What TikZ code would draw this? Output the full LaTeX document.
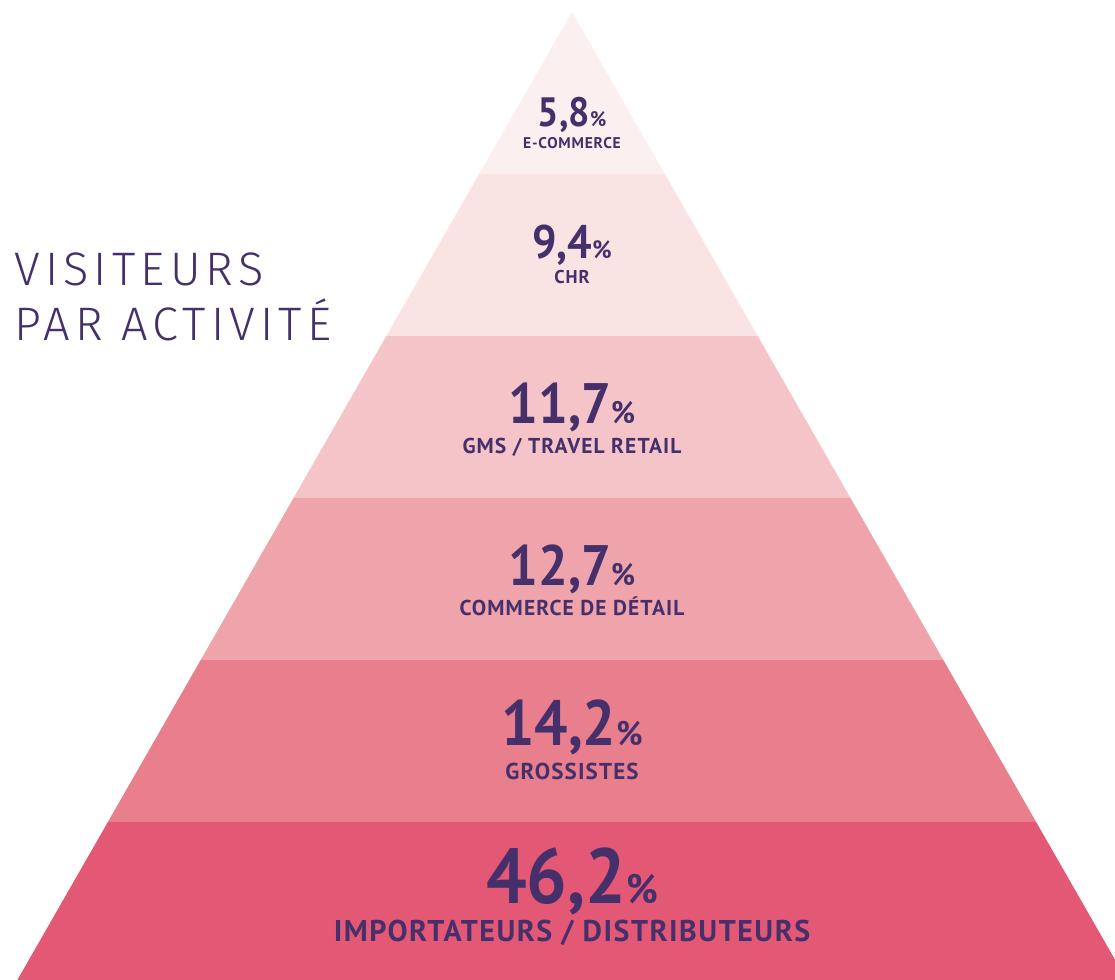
\documentclass[tikz,border=0pt]{standalone}
\usepackage{fontspec}
\setmainfont{PT Sans}
\newfontfamily\dinnum[FakeStretch=0.92]{PT Sans Bold}
\newfontfamily\dinlab[LetterSpace=5]{PT Sans Bold}
\newfontfamily\titlef[LetterSpace=11]{Fira Sans Light}
\definecolor{ink}{HTML}{46306B}
\definecolor{bandA}{HTML}{FCEFEF}
\definecolor{bandB}{HTML}{F9E3E3}
\definecolor{bandC}{HTML}{F4C4C8}
\definecolor{bandD}{HTML}{EFA3AA}
\definecolor{bandE}{HTML}{E97E8D}
\definecolor{bandF}{HTML}{E35875}
\newcommand\pcnum[3]{{\fontsize{#1}{#1}\selectfont #2}{\fontsize{#3}{#3}\selectfont\%}}
\newcommand\lab[2]{{\fontsize{#1}{#1}\selectfont #2}}
\tikzset{
  numtext/.style={text=ink, inner sep=0pt, anchor=base, font=\dinnum},
  labtext/.style={text=ink, inner sep=0pt, anchor=base, font=\dinlab},
  titletext/.style={text=ink, inner sep=0pt, anchor=base west, font=\titlef}
}
\begin{document}
\begin{tikzpicture}[x=1pt,y=-1pt]
\useasboundingbox (0,0) rectangle (1115,979);
\fill[white] (0,0) rectangle (1115,979);
\begin{scope}
\clip (0,0) rectangle (1115,979);
\clip (572,12) -- (11.6,990) -- (1132.4,990) -- cycle;
\fill[bandA] (0,0) rectangle (1115,174);
\fill[bandB] (0,174) rectangle (1115,336);
\fill[bandC] (0,336) rectangle (1115,498);
\fill[bandD] (0,498) rectangle (1115,660);
\fill[bandE] (0,660) rectangle (1115,822);
\fill[bandF] (0,822) rectangle (1115,990);
\end{scope}

\node[titletext] (t1) at (14,285) {\fontsize{47}{47}\selectfont VISITEURS};
\node[titletext] (t2) at (14,340) {\fontsize{47}{47}\selectfont PAR ACTIVITÉ};

\node[numtext] (n1) at (572,127) {\pcnum{41}{5,8}{21}};
\node[labtext] (l1) at (572,148) {\lab{15.5}{E-COMMERCE}};

\node[numtext] (n2) at (572,258) {\pcnum{47}{9,4}{25}};
\node[labtext] (l2) at (572,283) {\lab{18.5}{CHR}};

\node[numtext] (n3) at (572,423) {\pcnum{57}{11,7}{31}};
\node[labtext] (l3) at (572,453) {\lab{21.5}{GMS / TRAVEL RETAIL}};

\node[numtext] (n4) at (572,585) {\pcnum{57}{12,7}{31}};
\node[labtext] (l4) at (572,615) {\lab{21.5}{COMMERCE DE DÉTAIL}};

\node[numtext] (n5) at (572,745) {\pcnum{64}{14,2}{34}};
\node[labtext] (l5) at (572,779) {\lab{23}{GROSSISTES}};

\node[numtext] (n6) at (572,903) {\pcnum{78}{46,2}{41}};
\node[labtext] (l6) at (572,941) {\lab{30}{IMPORTATEURS / DISTRIBUTEURS}};
\end{tikzpicture}
\end{document}
